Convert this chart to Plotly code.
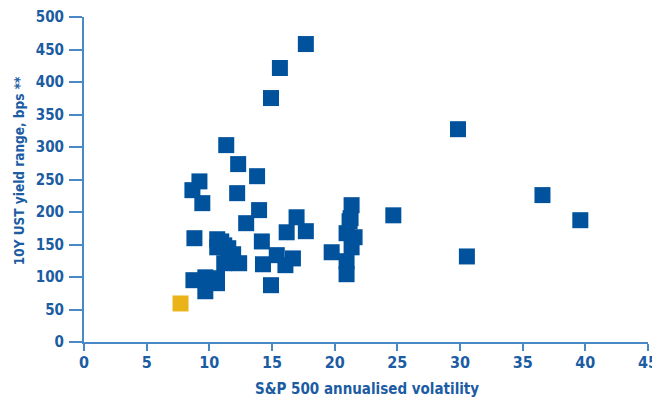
import plotly.graph_objects as go

# S&P 500 annualised volatility vs 10Y UST yield range (bps)
vol_blue = [17.70, 15.63, 14.92, 11.35, 29.84, 12.30, 9.21, 8.65, 13.81, 12.22, 9.44, 13.97,
            12.94, 16.96, 16.17, 17.70, 8.81,
            10.63, 10.95, 11.19, 11.51, 11.90, 12.38, 10.63, 11.19,
            14.19, 14.28, 15.38, 16.67, 16.07, 14.92, 8.73, 9.68, 10.61, 10.61, 9.68,
            21.35, 21.27, 21.19, 20.95, 21.59, 21.35, 19.76, 20.95, 20.95,
            24.68, 30.55, 36.58, 39.60]
yld_blue = [458.4, 421.5, 375.3, 302.9, 327.4, 273.7, 247.1, 233.6, 255.1, 229.0, 213.6, 202.9,
            182.8, 191.9, 168.8, 170.5, 159.7,
            158.1, 154.7, 148.7, 144.3, 135.0, 121.2, 145.7, 121.2,
            154.7, 119.6, 133.6, 128.6, 118.2, 87.4, 95.1, 99.5, 98.1, 90.5, 78.1,
            210.5, 190.5, 185.8, 167.4, 161.2, 145.7, 138.1, 124.3, 104.3,
            194.9, 131.6, 226.0, 187.4]
vol_yellow = [7.70]
yld_yellow = [59.3]

x_ticks = [0, 5, 10, 15, 20, 25, 30, 35, 40, 45]
y_ticks = [0, 50, 100, 150, 200, 250, 300, 350, 400, 450, 500]
x_title = "S&P 500 annualised volatility"
y_title = "10Y UST yield range, bps **"

BLUE = "#00529C"
YELLOW = "#EBB31A"
AXIS = "#4A89C8"
TEXT = "#1B5CA3"
FONT = "DejaVu Sans Condensed, DejaVu Sans, sans-serif"

fig = go.Figure()
fig.add_trace(go.Scatter(x=vol_blue, y=yld_blue, mode="markers",
                         marker=dict(symbol="square", size=16, color=BLUE, line=dict(width=0)),
                         showlegend=False, cliponaxis=False))
fig.add_trace(go.Scatter(x=vol_yellow, y=yld_yellow, mode="markers",
                         marker=dict(symbol="square", size=16, color=YELLOW, line=dict(width=0)),
                         showlegend=False, cliponaxis=False))

common = dict(showline=True, linecolor=AXIS, linewidth=2, ticks="outside",
              tickwidth=2, tickcolor=AXIS, showgrid=False, zeroline=False, automargin=False)

# page body has an 8px margin, so the figure is sized to fit the 660x401 window
fig.update_layout(
    width=652, height=393,
    margin=dict(l=76, r=12, t=9, b=59),
    paper_bgcolor="white", plot_bgcolor="white",
    font=dict(family=FONT, color=TEXT),
    xaxis=dict(range=[0, 45], tickvals=x_ticks, ticklen=7, ticklabelstandoff=-2,
               tickfont=dict(family=FONT, size=16, color=TEXT, weight="bold"), **common),
    yaxis=dict(range=[0, 500], tickvals=y_ticks, ticklen=13, ticklabelstandoff=2,
               tickfont=dict(family=FONT, size=15, color=TEXT, weight="bold"), **common),
    annotations=[
        dict(text=x_title, xref="paper", yref="paper", x=0.502, y=-0.146,
             xanchor="center", yanchor="middle", showarrow=False,
             font=dict(family=FONT, size=15, color=TEXT, weight="bold")),
        dict(text=y_title, xref="paper", yref="paper", x=-0.115, y=0.526,
             xanchor="center", yanchor="middle", showarrow=False, textangle=-90,
             font=dict(family=FONT, size=13.5, color=TEXT, weight="bold")),
    ],
)

fig.write_html("out.html")
